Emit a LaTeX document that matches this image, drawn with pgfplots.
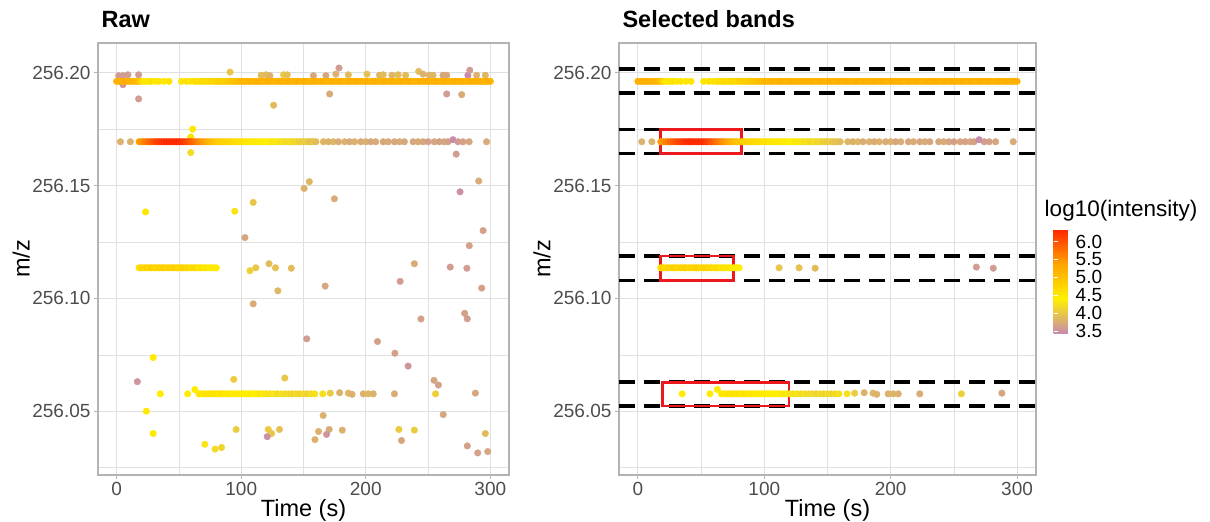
\documentclass[border=0pt]{standalone}
\usepackage{pgfplots}
\pgfplotsset{compat=1.18}
\usepackage{pgfplotstable}
\usepackage{fontspec}
\setmainfont{Liberation Sans}
\definecolor{tickgray}{RGB}{77,77,77}
\definecolor{gridgray}{RGB}{224,224,224}
\definecolor{bordergray}{RGB}{179,179,179}
\definecolor{boxred}{RGB}{235,25,30}

% band at m/z 256.1963
\pgfplotstableread[row sep=\\]{
x y c\\
0 256.1963 5.25\\ 2 256.1963 5.2\\ 4 256.1963 5.25\\ 6 256.1963 5.2\\ 8 256.1963 5.25\\ 10 256.1963 5.2\\
12 256.1963 5.2\\ 14 256.1963 5.15\\ 16 256.1963 5.1\\ 18 256.1963 5.0\\ 20 256.1963 4.7\\ 22 256.1963 4.5\\
24 256.1963 4.55\\ 26 256.1963 4.5\\ 28 256.1963 4.6\\ 31 256.1963 4.5\\ 34 256.1963 4.55\\ 38 256.1963 4.5\\
42 256.1963 4.55\\ 52 256.1963 4.55\\ 56 256.1963 4.6\\ 59 256.1963 4.55\\ 62 256.1963 4.6\\ 64 256.1963 4.65\\
66 256.1963 4.6\\ 68 256.1963 4.65\\ 70 256.1963 4.7\\ 72 256.1963 4.65\\ 74 256.1963 4.7\\ 76 256.1963 4.75\\
78 256.1963 4.7\\ 80 256.1963 4.8\\ 82 256.1963 4.8\\ 84 256.1963 4.85\\ 86 256.1963 4.8\\ 88 256.1963 4.9\\
90 256.1963 4.9\\ 92 256.1963 4.95\\ 94 256.1963 5.0\\ 96 256.1963 5.0\\ 98 256.1963 5.05\\ 100 256.1963 5.1\\
102 256.1963 5.15\\ 104 256.1963 5.1\\ 106 256.1963 5.15\\ 108 256.1963 5.2\\ 110 256.1963 5.15\\ 112 256.1963 5.2\\
114 256.1963 5.25\\ 116 256.1963 5.2\\ 118 256.1963 5.15\\ 120 256.1963 5.2\\ 122 256.1963 5.25\\ 124 256.1963 5.2\\
126 256.1963 5.2\\ 128 256.1963 5.15\\ 130 256.1963 5.2\\ 132 256.1963 5.25\\ 134 256.1963 5.2\\ 136 256.1963 5.2\\
138 256.1963 5.25\\ 140 256.1963 5.2\\ 142 256.1963 5.15\\ 144 256.1963 5.2\\ 146 256.1963 5.25\\ 148 256.1963 5.2\\
150 256.1963 5.2\\ 152 256.1963 5.25\\ 154 256.1963 5.2\\ 156 256.1963 5.15\\ 158 256.1963 5.2\\ 160 256.1963 5.25\\
162 256.1963 5.2\\ 164 256.1963 5.2\\ 166 256.1963 5.25\\ 168 256.1963 5.2\\ 170 256.1963 5.15\\ 172 256.1963 5.2\\
174 256.1963 5.25\\ 176 256.1963 5.2\\ 178 256.1963 5.2\\ 180 256.1963 5.25\\ 182 256.1963 5.2\\ 184 256.1963 5.15\\
186 256.1963 5.2\\ 188 256.1963 5.25\\ 190 256.1963 5.2\\ 192 256.1963 5.2\\ 194 256.1963 5.25\\ 196 256.1963 5.2\\
198 256.1963 5.15\\ 200 256.1963 5.2\\ 202 256.1963 5.25\\ 204 256.1963 5.2\\ 206 256.1963 5.2\\ 208 256.1963 5.25\\
210 256.1963 5.2\\ 212 256.1963 5.15\\ 214 256.1963 5.2\\ 216 256.1963 5.25\\ 218 256.1963 5.2\\ 220 256.1963 5.2\\
222 256.1963 5.25\\ 224 256.1963 5.2\\ 226 256.1963 5.15\\ 228 256.1963 5.2\\ 230 256.1963 5.25\\ 232 256.1963 5.2\\
234 256.1963 5.2\\ 236 256.1963 5.25\\ 238 256.1963 5.2\\ 240 256.1963 5.15\\ 242 256.1963 5.2\\ 244 256.1963 5.25\\
246 256.1963 5.2\\ 248 256.1963 5.2\\ 250 256.1963 5.25\\ 252 256.1963 5.2\\ 254 256.1963 5.15\\ 256 256.1963 5.2\\
258 256.1963 5.25\\ 260 256.1963 5.2\\ 262 256.1963 5.2\\ 264 256.1963 5.25\\ 266 256.1963 5.2\\ 268 256.1963 5.15\\
270 256.1963 5.2\\ 272 256.1963 5.25\\ 274 256.1963 5.2\\ 276 256.1963 5.2\\ 278 256.1963 5.25\\ 280 256.1963 5.2\\
282 256.1963 5.15\\ 284 256.1963 5.2\\ 286 256.1963 5.25\\ 288 256.1963 5.2\\ 290 256.1963 5.2\\ 292 256.1963 5.25\\
294 256.1963 5.2\\ 296 256.1963 5.2\\ 298 256.1963 5.25\\ 300 256.1963 5.2\\
}\bandA

% band at m/z 256.1695
\pgfplotstableread[row sep=\\]{
x y c\\
3 256.1695 3.8\\ 11 256.1695 3.8\\
18 256.1695 5.4\\ 20 256.1695 5.5\\ 22 256.1695 5.6\\ 24 256.1695 5.7\\ 26 256.1695 5.8\\ 28 256.1695 5.9\\
30 256.1695 6.0\\ 32 256.1695 6.1\\ 34 256.1695 6.15\\ 36 256.1695 6.2\\ 38 256.1695 6.25\\ 40 256.1695 6.3\\
42 256.1695 6.3\\ 44 256.1695 6.3\\ 46 256.1695 6.3\\ 48 256.1695 6.3\\ 50 256.1695 6.28\\ 52 256.1695 6.25\\
54 256.1695 6.2\\ 56 256.1695 6.1\\ 58 256.1695 6.0\\ 60 256.1695 5.9\\ 62 256.1695 5.8\\ 64 256.1695 5.7\\
66 256.1695 5.6\\ 68 256.1695 5.5\\ 70 256.1695 5.4\\ 72 256.1695 5.3\\ 74 256.1695 5.2\\ 76 256.1695 5.1\\
78 256.1695 5.0\\ 80 256.1695 4.9\\ 82 256.1695 4.85\\ 84 256.1695 4.8\\ 86 256.1695 4.8\\ 88 256.1695 4.75\\
90 256.1695 4.75\\ 92 256.1695 4.7\\ 94 256.1695 4.7\\ 96 256.1695 4.65\\ 98 256.1695 4.65\\ 100 256.1695 4.6\\
102 256.1695 4.6\\ 104 256.1695 4.55\\ 106 256.1695 4.55\\ 108 256.1695 4.5\\ 110 256.1695 4.5\\ 112 256.1695 4.5\\
114 256.1695 4.45\\ 116 256.1695 4.45\\ 118 256.1695 4.45\\ 120 256.1695 4.4\\ 122 256.1695 4.4\\ 124 256.1695 4.35\\
126 256.1695 4.3\\ 128 256.1695 4.35\\ 130 256.1695 4.3\\ 132 256.1695 4.25\\ 134 256.1695 4.3\\ 136 256.1695 4.2\\
138 256.1695 4.2\\ 140 256.1695 4.25\\ 142 256.1695 4.15\\ 144 256.1695 4.2\\ 146 256.1695 4.1\\ 148 256.1695 4.1\\
150 256.1695 4.05\\ 152 256.1695 4.1\\ 154 256.1695 4.0\\ 156 256.1695 3.95\\ 158 256.1695 4.0\\ 160 256.1695 3.9\\
166 256.1695 3.85\\ 170 256.1695 3.8\\ 174 256.1695 3.85\\ 178 256.1695 3.75\\ 183 256.1695 3.8\\ 187 256.1695 3.75\\
191 256.1695 3.8\\ 196 256.1695 3.75\\ 200 256.1695 3.8\\ 204 256.1695 3.7\\ 208 256.1695 3.75\\ 214 256.1695 3.7\\
218 256.1695 3.75\\ 223 256.1695 3.7\\ 227 256.1695 3.75\\ 231 256.1695 3.7\\ 238 256.1695 3.7\\ 242 256.1695 3.75\\
246 256.1695 3.7\\ 250 256.1695 3.65\\ 255 256.1695 3.7\\ 259 256.1695 3.65\\ 263 256.1695 3.7\\ 266 256.1695 3.65\\
270 256.1704 3.45\\ 274 256.1695 3.6\\ 278 256.1695 3.65\\ 283 256.1695 3.7\\ 297 256.1695 3.75\\
}\bandB

% band at m/z 256.1136
\pgfplotstableread[row sep=\\]{
x y c\\
18 256.1136 4.6\\ 20 256.1136 4.75\\ 22 256.1136 4.7\\ 24 256.1136 4.8\\ 26 256.1136 4.7\\ 28 256.1136 4.85\\
30 256.1136 4.75\\ 32 256.1136 4.7\\ 34 256.1136 4.8\\ 36 256.1136 4.75\\ 38 256.1136 4.85\\ 40 256.1136 4.7\\
42 256.1136 4.8\\ 44 256.1136 4.75\\ 46 256.1136 4.85\\ 48 256.1136 4.8\\ 50 256.1136 4.7\\ 52 256.1136 4.75\\
54 256.1136 4.8\\ 56 256.1136 4.7\\ 58 256.1136 4.75\\ 60 256.1136 4.6\\ 62 256.1136 4.7\\ 64 256.1136 4.65\\
66 256.1136 4.55\\ 68 256.1136 4.6\\ 70 256.1136 4.5\\ 72 256.1136 4.55\\ 74 256.1136 4.5\\ 76 256.1136 4.45\\
78 256.1136 4.5\\ 80 256.1136 4.45\\
111.7 256.1136 4.0\\ 127.5 256.1136 3.95\\ 140.2 256.1134 3.9\\ 267.8 256.1139 3.6\\ 281.2 256.1134 3.6\\
}\bandC

% band at m/z 256.0577
\pgfplotstableread[row sep=\\]{
x y c\\
35 256.0577 4.45\\ 57 256.0577 4.45\\ 62.8 256.0596 4.45\\
66 256.0577 4.5\\ 68 256.0577 4.55\\ 70 256.0577 4.5\\ 72 256.0577 4.6\\ 74 256.0577 4.55\\ 76 256.0577 4.6\\
78 256.0577 4.55\\ 80 256.0577 4.6\\ 82 256.0577 4.5\\ 84 256.0577 4.6\\ 86 256.0577 4.55\\ 88 256.0577 4.5\\
90 256.0577 4.55\\ 92 256.0577 4.5\\ 94 256.0577 4.45\\ 96 256.0577 4.5\\ 98 256.0577 4.45\\ 100 256.0577 4.5\\
102 256.0577 4.45\\ 104 256.0577 4.45\\ 106 256.0577 4.4\\ 108 256.0577 4.45\\ 110 256.0577 4.4\\ 112 256.0577 4.4\\
114 256.0577 4.35\\ 116 256.0577 4.3\\ 118 256.0577 4.35\\ 120 256.0577 4.3\\ 123 256.0577 4.25\\ 126 256.0577 4.3\\
129 256.0577 4.2\\ 132 256.0577 4.25\\ 135 256.0577 4.2\\ 138 256.0577 4.2\\ 141 256.0577 4.15\\ 144 256.0577 4.2\\
147 256.0577 4.15\\ 150 256.0577 4.2\\ 153 256.0577 4.15\\ 156 256.0577 4.2\\ 159 256.0577 4.25\\ 165.5 256.0577 4.25\\
171.5 256.0580 4.05\\ 179 256.0582 3.8\\ 186 256.0580 3.85\\ 189 256.0575 3.8\\ 198 256.0577 3.8\\ 202 256.0577 3.85\\
206 256.0577 3.8\\ 223 256.0577 3.75\\ 256 256.0577 4.1\\ 288 256.0580 3.7\\
}\bandD

% scattered points outside the selected bands (raw data only)
\pgfplotstableread[row sep=\\]{
x y c\\
1.6 256.1988 3.6\\ 5 256.1988 3.6\\ 9 256.1992 3.6\\ 17.6 256.1992 3.6\\ 5 256.1948 3.55\\ 17.6 256.1885 3.6\\
91 256.2004 4.0\\ 116 256.1990 3.9\\ 120 256.1992 3.9\\ 123 256.1988 3.8\\ 126 256.1857 3.9\\ 134 256.1992 4.0\\
137 256.1992 3.95\\ 158 256.1988 3.7\\ 168 256.1988 3.7\\ 171 256.1907 3.75\\ 176 256.1995 3.8\\ 178.5 256.2022 3.6\\
186 256.1992 3.9\\ 201 256.1995 3.95\\ 211 256.1990 3.85\\ 214 256.1992 3.9\\ 221 256.1990 3.85\\ 226 256.1992 3.9\\
232 256.1990 3.9\\ 242.5 256.2007 3.9\\ 246 256.1995 3.8\\ 251 256.1990 3.8\\ 254 256.1990 3.85\\ 262 256.1990 3.7\\
265 256.1990 3.7\\ 265 256.1907 3.6\\ 277 256.1904 3.75\\ 282 256.1990 3.45\\ 283.5 256.2012 3.6\\ 289 256.1990 3.8\\
296 256.1990 3.85\\
61 256.1751 4.5\\ 59.5 256.1716 4.6\\ 59.5 256.1647 4.2\\ 272.6 256.1640 3.6\\
23.2 256.1384 4.55\\ 94.8 256.1387 4.3\\ 109.6 256.1426 4.0\\ 103 256.1270 3.7\\ 150.5 256.1488 3.8\\
154.7 256.1518 3.85\\ 174.8 256.1442 3.75\\ 290.7 256.1521 3.75\\ 275.7 256.1473 3.5\\ 294.2 256.1301 3.65\\
283.1 256.1234 3.65\\ 107 256.1123 4.1\\ 122.3 256.1154 3.9\\ 129.4 256.1034 3.85\\ 167.4 256.1055 3.7\\
109.6 256.0976 3.75\\ 227.6 256.1076 3.6\\ 239 256.1154 3.75\\ 293.1 256.1046 3.65\\
152.6 256.0821 3.6\\ 209.4 256.0809 3.65\\ 244.3 256.0909 3.65\\ 279.4 256.0934 3.65\\ 281.5 256.0910 3.6\\
223.4 256.0757 3.65\\ 234 256.0700 3.55\\ 29.3 256.0738 4.5\\ 16.6 256.0631 3.55\\ 94 256.0641 4.05\\
135 256.0647 4.0\\ 254.8 256.0637 3.7\\ 258.3 256.0616 3.65\\ 23.8 256.0500 4.5\\ 29.3 256.0401 4.5\\
262.2 256.0485 3.7\\ 165.8 256.0481 3.8\\ 95.9 256.0419 4.05\\ 121.7 256.0419 4.05\\ 124.4 256.0401 4.0\\
120.9 256.0387 3.5\\ 130.7 256.0419 3.95\\ 162.1 256.0410 3.8\\ 170.6 256.0419 3.75\\ 168.5 256.0397 3.55\\
159.2 256.0374 3.8\\ 181.1 256.0416 3.8\\ 226.6 256.0419 4.05\\ 228.7 256.0370 3.7\\ 239 256.0416 4.05\\
296 256.0401 3.9\\ 281.5 256.0346 3.65\\ 289.9 256.0315 3.65\\ 297.9 256.0321 3.7\\ 70.8 256.0353 4.3\\
79 256.0332 4.2\\ 84.2 256.0339 4.15\\
}\others

\pgfplotsset{
  mzaxis/.style={
    scale only axis, height=432pt,
    xmin=-15, xmax=315, ymin=256.0217, ymax=256.2133,
    xtick={0,100,200,300}, minor xtick={50,150,250},
    ytick={256.05,256.10,256.15,256.20},
    minor ytick={256.025,256.075,256.125,256.175},
    grid=both,
    major grid style={gridgray, line width=1pt},
    minor grid style={gridgray, line width=0.6pt},
    axis line style={bordergray, line width=1.3pt},
    tick style={bordergray, line width=1pt},
    major tick length=4pt, minor tick length=0pt,
    tick align=outside, tick pos=left,
    /pgf/number format/assume math mode=true,
    scaled y ticks=false,
    xticklabel style={font=\fontsize{19}{22}\selectfont, text=tickgray},
    yticklabel style={font=\fontsize{19}{22}\selectfont, text=tickgray,
      /pgf/number format/.cd, fixed, fixed zerofill, precision=2},
    xlabel={Time (s)}, ylabel={m/z},
    label style={font=\fontsize{23.5}{28}\selectfont},
    xlabel style={at={(axis description cs:0.5,-0.081)}, anchor=center},
    title style={at={(axis description cs:0,1.023)}, anchor=base west,
      font=\bfseries\fontsize{23.5}{28}\selectfont},
    colormap={mz}{rgb255=(200,140,172) rgb255=(255,240,0) rgb255=(255,165,0) rgb255=(255,40,0)},
    point meta min=3.45, point meta max=6.32,
  },
  pts/.style={scatter, only marks, mark=*, mark size=3.3pt,
    scatter/use mapped color={draw=mapped color, fill=mapped color},
    point meta=\thisrow{c}},
  band/.style={black, line width=3.3pt, dash pattern=on 16pt off 9pt},
  box/.style={boxred, line width=2.8pt, line join=miter},
}

\begin{document}
\begin{tikzpicture}
\useasboundingbox (0,0) rectangle (1210pt,522pt);

\begin{axis}[mzaxis, at={(98pt,47pt)}, anchor=south west, width=411pt,
  title={Raw},
  ylabel style={at={(axis description cs:-0.187,0.5)}, anchor=center}]
\addplot[pts] table[x=x, y=y] {\others};
\addplot[pts] table[x=x, y=y] {\bandA};
\addplot[pts] table[x=x, y=y] {\bandB};
\addplot[pts] table[x=x, y=y] {\bandC};
\addplot[pts] table[x=x, y=y] {\bandD};
\end{axis}

\begin{axis}[mzaxis, at={(619pt,47pt)}, anchor=south west, width=417pt,
  title={Selected bands},
  ylabel style={at={(axis description cs:-0.185,0.5)}, anchor=center},
  colorbar,
  colorbar style={
    at={(parent axis.north east)}, anchor=north west,
    xshift=9pt, yshift=-187pt,
    scale only axis, width=21pt, height=103pt,
    ytick={3.5,4,4.5,5,5.5,6},
    /pgf/number format/assume math mode=true,
    yticklabel style={font=\fontsize{19}{20}\selectfont, text=black, inner xsep=1pt,
      /pgf/number format/.cd, fixed, fixed zerofill, precision=1},
    axis line style={draw=none},
    major tick length=4pt, tick style={white, line width=0.8pt},
    tick align=inside, ytick pos=both, yticklabel pos=right,
    title={log10(intensity)},
    title style={at={(0,1)}, anchor=base west, xshift=-9pt, yshift=7pt, inner sep=0pt,
      font=\fontsize{22.5}{27}\selectfont},
  }]
\addplot[pts] table[x=x, y=y] {\bandA};
\addplot[pts] table[x=x, y=y] {\bandB};
\addplot[pts] table[x=x, y=y] {\bandC};
\addplot[pts] table[x=x, y=y] {\bandD};
\addplot[band] coordinates {(-15,256.2018) (315,256.2018)};
\addplot[band] coordinates {(-15,256.1911) (315,256.1911)};
\addplot[band] coordinates {(-15,256.1750) (315,256.1750)};
\addplot[band] coordinates {(-15,256.1642) (315,256.1642)};
\addplot[band] coordinates {(-15,256.1188) (315,256.1188)};
\addplot[band] coordinates {(-15,256.1081) (315,256.1081)};
\addplot[band] coordinates {(-15,256.0629) (315,256.0629)};
\addplot[band] coordinates {(-15,256.0523) (315,256.0523)};
\addplot[box] coordinates {(17.6,256.1750) (82,256.1750) (82,256.1642) (17.6,256.1642) (17.6,256.1750) (82,256.1750)};
\addplot[box] coordinates {(17.6,256.1188) (75.7,256.1188) (75.7,256.1081) (17.6,256.1081) (17.6,256.1188) (75.7,256.1188)};
\addplot[box] coordinates {(19.5,256.0629) (119.5,256.0629) (119.5,256.0523) (19.5,256.0523) (19.5,256.0629) (119.5,256.0629)};
\end{axis}
\end{tikzpicture}
\end{document}
